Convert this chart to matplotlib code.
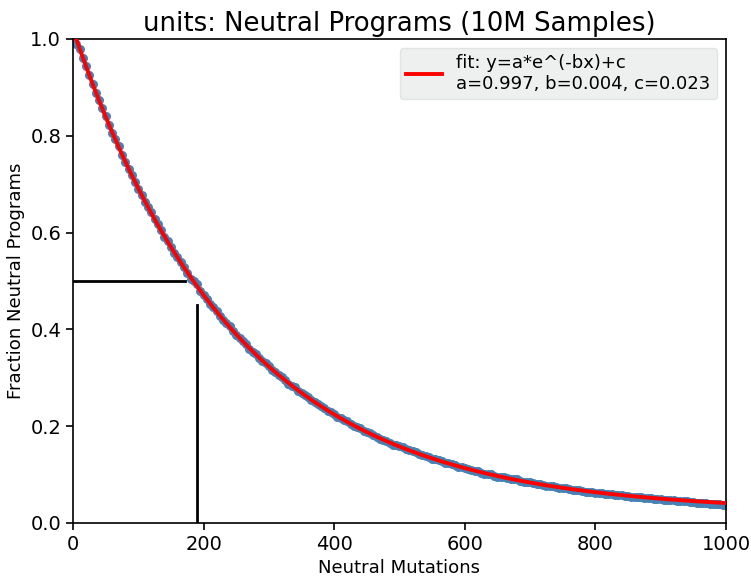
import numpy as np
import matplotlib
matplotlib.use("Agg")
import matplotlib.pyplot as plt

# Data (fraction of neutral programs vs neutral mutations)
mutations = list(range(0, 1001, 5))
fraction = [
    1.000, 0.990, 0.979, 0.961, 0.944, 0.925, 0.907, 0.889, 0.874, 0.857,
    0.840, 0.822, 0.806, 0.793, 0.778, 0.761, 0.746, 0.732, 0.720, 0.705,
    0.690, 0.678, 0.664, 0.652, 0.642, 0.628, 0.617, 0.605, 0.591, 0.582,
    0.571, 0.558, 0.549, 0.540, 0.529, 0.517, 0.505, 0.500, 0.493, 0.480,
    0.472, 0.462, 0.452, 0.446, 0.438, 0.428, 0.419, 0.413, 0.406, 0.397,
    0.389, 0.382, 0.376, 0.369, 0.360, 0.354, 0.349, 0.341, 0.335, 0.330,
    0.324, 0.317, 0.311, 0.306, 0.301, 0.295, 0.288, 0.284, 0.280, 0.273,
    0.268, 0.264, 0.260, 0.255, 0.249, 0.245, 0.242, 0.237, 0.232, 0.229,
    0.225, 0.220, 0.216, 0.213, 0.210, 0.205, 0.201, 0.199, 0.196, 0.191,
    0.187, 0.185, 0.182, 0.178, 0.174, 0.172, 0.170, 0.166, 0.162, 0.161,
    0.159, 0.156, 0.152, 0.151, 0.149, 0.146, 0.142, 0.141, 0.139, 0.136,
    0.132, 0.132, 0.130, 0.128, 0.124, 0.124, 0.122, 0.119, 0.116, 0.115,
    0.114, 0.112, 0.109, 0.108, 0.107, 0.104, 0.102, 0.102, 0.101, 0.098,
    0.096, 0.096, 0.095, 0.092, 0.090, 0.090, 0.090, 0.087, 0.085, 0.085,
    0.085, 0.082, 0.080, 0.080, 0.079, 0.077, 0.076, 0.076, 0.075, 0.073,
    0.072, 0.072, 0.071, 0.069, 0.068, 0.068, 0.067, 0.065, 0.064, 0.064,
    0.063, 0.062, 0.061, 0.060, 0.060, 0.059, 0.058, 0.057, 0.057, 0.056,
    0.055, 0.054, 0.054, 0.053, 0.053, 0.052, 0.052, 0.051, 0.050, 0.049,
    0.049, 0.048, 0.048, 0.047, 0.047, 0.046, 0.046, 0.045, 0.045, 0.044,
    0.043, 0.042, 0.042, 0.041, 0.041, 0.040, 0.040, 0.039, 0.039, 0.038,
    0.038,
]

# Fit parameters shown in the legend
fit_a, fit_b, fit_c = 0.997, 0.004, 0.023
half_y = 0.5
half_x_end = 171
cross_x = 190
cross_y_top = 0.45

title = "units: Neutral Programs (10M Samples)"
xlabel = "Neutral Mutations"
ylabel = "Fraction Neutral Programs"
fit_label = "fit: y=a*e^(-bx)+c\na=%.3f, b=%.3f, c=%.3f" % (fit_a, fit_b, fit_c)

fig = plt.figure(figsize=(7.51, 5.81), dpi=100)
ax = fig.add_axes([73/751, 1-523/581, (726-73)/751, (523-39)/581])

ax.scatter(mutations, fraction, s=42, color="steelblue", zorder=2, linewidths=0)
xs = np.linspace(0, 1000, 1001)
ax.plot(xs, fit_a*np.exp(-fit_b*xs)+fit_c, color="red", lw=2.8, label=fit_label, zorder=3)

ax.plot([0, half_x_end], [half_y, half_y], color="black", lw=2, zorder=4)
ax.plot([cross_x, cross_x], [0, cross_y_top], color="black", lw=2, zorder=4)

ax.set_xlim(0, 1000)
ax.set_ylim(0, 1.0)
ax.set_xticks([0, 200, 400, 600, 800, 1000])
ax.set_yticks([0.0, 0.2, 0.4, 0.6, 0.8, 1.0])
ax.tick_params(labelsize=14, length=5, width=1.2)
for s in ax.spines.values():
    s.set_linewidth(1.2)
ax.set_xlabel(xlabel, fontsize=13.1)
ax.set_ylabel(ylabel, fontsize=13.1)
ax.set_title(title, fontsize=18.7)

leg = ax.legend(loc="upper right", fontsize=13, frameon=True, fancybox=True,
                handlelength=2, borderpad=0.35, labelspacing=0.15,
                borderaxespad=0.5)
leg.get_frame().set_facecolor("#eef0f0")
leg.get_frame().set_edgecolor("#e2e4e4")
leg.get_frame().set_alpha(1)

fig.savefig("out.png", dpi=100)
